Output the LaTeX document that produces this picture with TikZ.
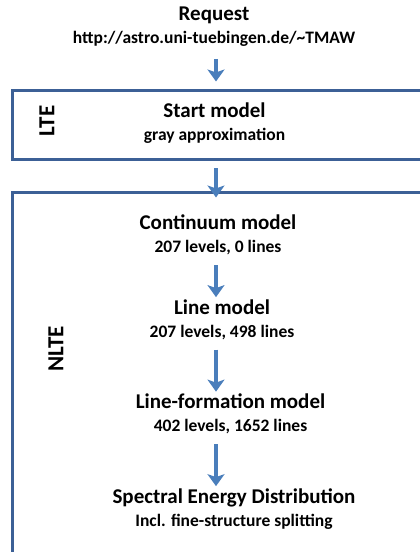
\documentclass[tikz,border=0pt]{standalone}
\usepackage{fontspec}
\setmainfont{Carlito}
\usepackage{tikz}
\usetikzlibrary{arrows.meta, positioning}
\usepackage{xcolor}
\definecolor{frame}{RGB}{60,96,150}
\definecolor{flow}{RGB}{74,126,187}

\newcommand{\hd}[1]{{\fontsize{21}{23}\selectfont #1}}

\begin{document}
\begin{tikzpicture}[
  x=1pt, y=1pt,
  node distance=52pt,
  stage/.style = {align=center, inner sep=0pt, font=\fontsize{17.5}{23}\selectfont\bfseries},
  tag/.style   = {rotate=90, inner sep=0pt, font=\fontsize{23}{26}\selectfont\bfseries},
  band/.style  = {draw=frame, line width=3pt},
  arr/.style   = {-{Stealth[length=12pt, width=17pt, inset=3pt]}, flow, line width=4.5pt}
]
\clip (0,0) rectangle (420,552);

% regime frames, open to the right
\coordinate (lteA) at (12.5,461.5);  \coordinate (lteB) at (450,392.5);
\coordinate (nlteA) at (12.5,359.5); \coordinate (nlteB) at (450,-10);
\coordinate (axis) at (216,0);
\draw[band] (lteA) rectangle (lteB);
\draw[band] (nlteA) rectangle (nlteB);
\node[tag] (lte)  at (47,431) {LTE};
\node[tag] (nlte) at (56,203) {NLTE};

\node[stage] (req) at (214,525) {\hd{Request}\\ http://astro.uni-tuebingen.de/\textasciitilde TMAW};
\node[stage, below=55.5pt of req, xshift=0.5pt] (start) {\hd{Start model}\\ gray approximation};
\node[stage, below=71pt of start, xshift=3.5pt] (cont)  {\hd{Continuum model}\\ 207 levels, 0 lines};
\node[stage, below=44pt of cont, xshift=4pt]    (line)  {\hd{Line model}\\ 207 levels, 498 lines};
\node[stage, below=54pt of line, xshift=8.5pt]  (form)  {\hd{Line-formation model}\\ 402 levels, 1652 lines};
\node[stage, below=54pt of form, xshift=3.5pt]  (sed)   {\hd{Spectral Energy Distribution}\\ Incl. fine-structure splitting};

\draw[arr, shorten <=12pt, shorten >=9pt] (req.south -| axis) -- (lteA -| axis);
\draw[arr, shorten <=9pt, shorten >=-5pt] (lteB -| axis) -- (nlteA -| axis);
\draw[arr, shorten <=10pt, shorten >=2pt] (cont.south -| axis) -- (line.north -| axis);
\draw[arr, shorten <=10pt, shorten >=2pt] (line.south -| axis) -- (form.north -| axis);
\draw[arr, shorten <=10pt, shorten >=2pt] (form.south -| axis) -- (sed.north -| axis);
\end{tikzpicture}
\end{document}
